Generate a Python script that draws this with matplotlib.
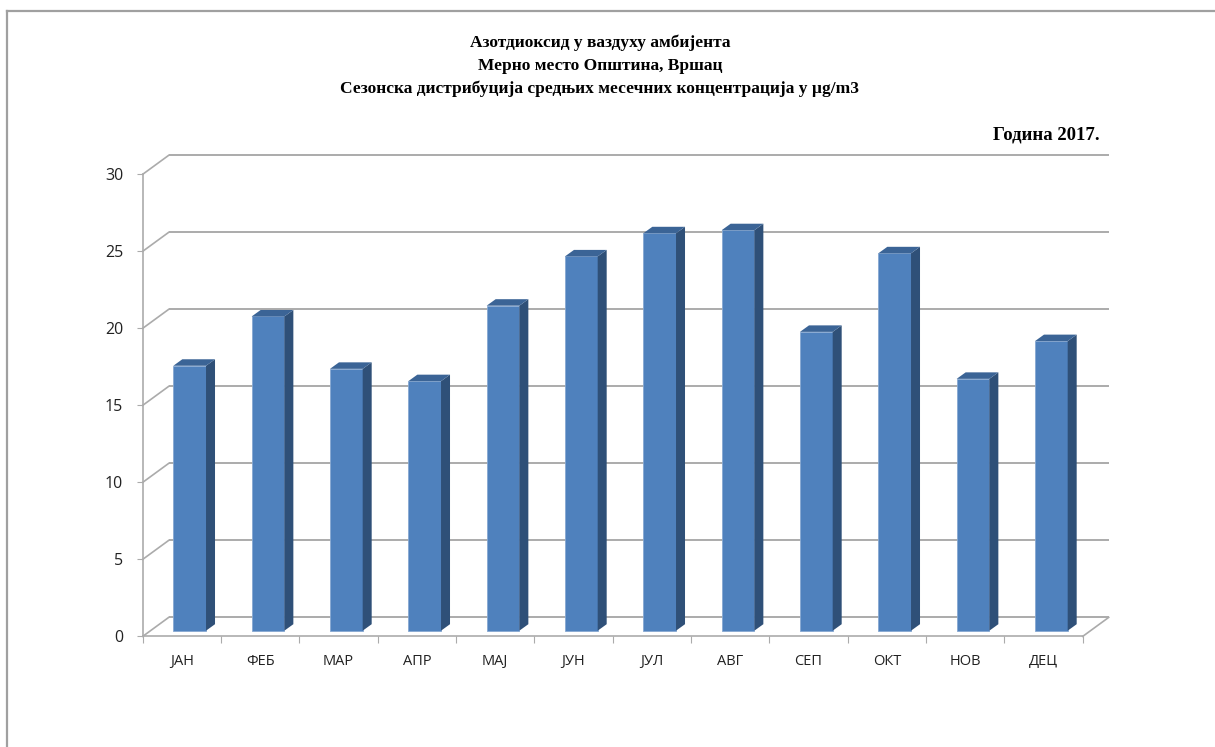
#!/usr/bin/env python3

# NO2 monthly means, Vrsac - 3D-style column chart

import matplotlib
matplotlib.use('Agg')
import matplotlib.pyplot as plt
from matplotlib.patches import Polygon
from matplotlib.lines import Line2D
import numpy as np

months = ['ЈАН', 'ФЕБ', 'МАР', 'АПР', 'МАЈ', 'ЈУН',
          'ЈУЛ', 'АВГ', 'СЕП', 'ОКТ', 'НОВ', 'ДЕЦ']
no2 = [17.2, 20.4, 17.0, 16.2, 21.1, 24.3, 25.8, 26.0, 19.4, 24.5, 16.35, 18.8]
yticks = [0, 5, 10, 15, 20, 25, 30]

title_lines = ['Азотдиоксид у ваздуху амбијента',
               'Мерно место Општина, Вршац',
               'Сезонска дистрибуција средњих месечних концентрација у µg/m3']
year_label = 'Година 2017.'

W, H = 1215, 747
fig = plt.figure(figsize=(W / 100, H / 100), dpi=100)
fig.patch.set_facecolor('white')

# plot area in pixels (front plane)
left, right, top, bottom = 142.7, 1082.7, 174.3, 636.4
ax = fig.add_axes([left / W, (H - bottom) / H, (right - left) / W, (bottom - top) / H])
n = len(months)
ax.set_xlim(0, n)
ax.set_ylim(0, 30)

pxx = (right - left) / n          # pixels per category
pxy = (bottom - top) / 30.0       # pixels per unit

# depth offsets in data units
wall_dx, wall_dy = 26 / pxx, 19 / pxy
bar_dx, bar_dy = 7.8 / pxx, 5.7 / pxy
dep_dx, dep_dy = 9 / pxx, 6.5 / pxy
bar_w = 32.7 / pxx

grid_c = '#ababab'
front_c = '#4f81bd'
side_c = '#2f5078'
top_c = '#3b6496'

# back wall gridlines and side wall diagonals
for y in yticks:
  ax.plot([wall_dx, n + wall_dx], [y + wall_dy, y + wall_dy], color=grid_c, lw=1.4,
          clip_on=False, zorder=1, solid_capstyle='butt')
  ax.plot([0, wall_dx], [y, y + wall_dy], color=grid_c, lw=1.2, clip_on=False, zorder=1)
# floor right edge
ax.plot([n, n + wall_dx], [0, wall_dy], color=grid_c, lw=1.2, clip_on=False, zorder=1)

# columns: front face, side, top
xs = np.arange(n) + 0.5 + bar_dx
ax.bar(xs, no2, width=bar_w, bottom=bar_dy, color=front_c, zorder=3,
       edgecolor='#86a8d2', linewidth=0.6)
for x, v in zip(xs, no2):
  xl, xr = x - bar_w / 2, x + bar_w / 2
  t = bar_dy + v
  ax.add_patch(Polygon([(xr, bar_dy), (xr + dep_dx, bar_dy + dep_dy),
                        (xr + dep_dx, t + dep_dy), (xr, t)],
                       closed=True, facecolor=side_c, edgecolor='none', zorder=3, clip_on=False))
  ax.add_patch(Polygon([(xl, t), (xr, t), (xr + dep_dx, t + dep_dy), (xl + dep_dx, t + dep_dy)],
                       closed=True, facecolor=top_c, edgecolor='none', zorder=3, clip_on=False))

# axes styling
for s in ['top', 'right']:
  ax.spines[s].set_visible(False)
for s in ['left', 'bottom']:
  ax.spines[s].set_color(grid_c)
  ax.spines[s].set_linewidth(1.2)
ax.set_yticks(yticks)
ax.set_yticklabels([str(v) for v in yticks], fontsize=11.5, family='Open Sans', color='#222222')
ax.tick_params(axis='y', length=4, color=grid_c, pad=10)
ax.set_xticks(np.arange(n + 1))
ax.set_xticklabels([])
ax.set_xticks(np.arange(n) + 0.5, minor=True)
ax.set_xticklabels(months, minor=True, fontsize=10.5, family='Open Sans', color='#222222')
ax.tick_params(axis='x', which='major', length=5, color=grid_c, direction='out')
ax.tick_params(axis='x', which='minor', length=0, pad=13)
ax.patch.set_alpha(0)

# titles
for i, line in enumerate(title_lines):
  fig.text(600 / W, 1 - (43 + 23 * i) / H, line, ha='center', va='center',
           family='Liberation Serif', fontweight='bold', fontsize=12.5)
fig.text(1100 / W, 1 - 135 / H, year_label, ha='right', va='center',
         family='Liberation Serif', fontweight='bold', fontsize=13.5)

# outer frame
fig.add_artist(Line2D([7 / W, 1], [1 - 11 / H, 1 - 11 / H], color='#a0a0a0', lw=1.6))
fig.add_artist(Line2D([7 / W, 7 / W], [0, 1 - 11 / H], color='#a0a0a0', lw=1.6))

fig.savefig('out.png', dpi=100)
